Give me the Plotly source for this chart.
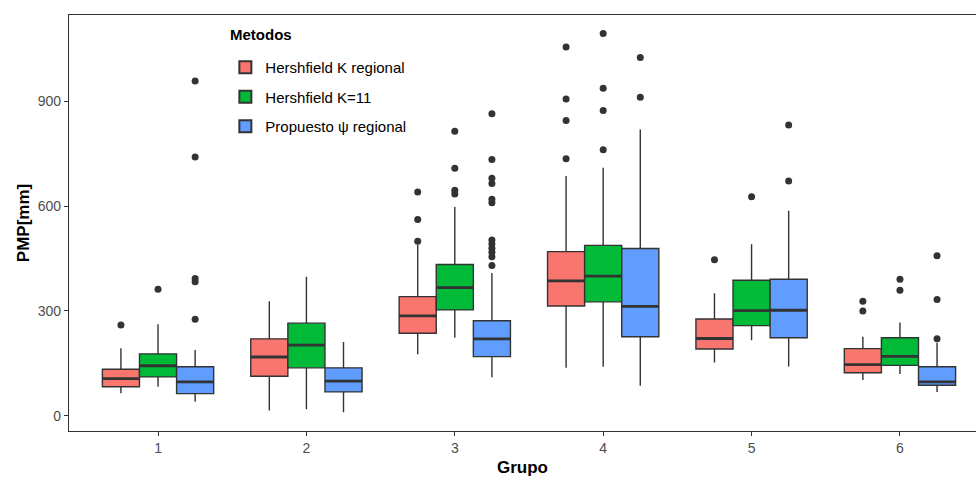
import plotly.graph_objects as go

grupos = [1, 2, 3, 4, 5, 6]
metodos = ["Hershfield K regional", "Hershfield K=11", "Propuesto \u03c8 regional"]
colores = ["#F8766D", "#00BA38", "#619CFF"]

# Box statistics per method, per group (1..6)
q1 = {
    0: [83, 113, 236, 314, 191, 123],
    1: [111, 137, 303, 326, 258, 144],
    2: [63, 68, 169, 226, 223, 87],
}
med = {
    0: [106, 168, 286, 386, 221, 146],
    1: [143, 202, 367, 400, 301, 170],
    2: [97, 99, 220, 313, 302, 97],
}
q3 = {
    0: [133, 220, 341, 470, 277, 192],
    1: [177, 265, 433, 488, 388, 223],
    2: [140, 137, 272, 479, 391, 140],
}
lo = {
    0: [64, 15, 176, 137, 152, 102],
    1: [83, 18, 223, 140, 216, 119],
    2: [40, 10, 110, 86, 141, 68],
}
hi = {
    0: [193, 328, 490, 687, 351, 226],
    1: [262, 398, 598, 710, 491, 267],
    2: [188, 211, 409, 820, 587, 209],
}
outliers = {
    0: [[260], [], [500, 562, 641], [736, 846, 907, 1056], [447], [300, 328]],
    1: [[362], [], [635, 646, 709, 815], [762, 874, 938, 1095], [627], [359, 391]],
    2: [[276, 384, 393, 741, 959], [],
        [430, 455, 468, 480, 492, 503, 610, 620, 665, 680, 734, 865],
        [912, 1026], [672, 833], [220, 333, 458]],
}
legend_title = "Metodos"

dodge = 0.25
fig = go.Figure()
for m in range(3):
    xs = [g + (m - 1) * dodge for g in grupos]
    fig.add_trace(go.Box(
        x=xs, q1=q1[m], median=med[m], q3=q3[m],
        lowerfence=lo[m], upperfence=hi[m],
        width=dodge, name=metodos[m], fillcolor=colores[m],
        legendgroup=metodos[m],
        line=dict(color="#333333", width=1.4), boxpoints=False,
        whiskerwidth=0, hoverinfo="skip",
    ))
    # thicker medians
    mx, my = [], []
    for x, v in zip(xs, med[m]):
        mx += [x - dodge / 2, x + dodge / 2, None]
        my += [v, v, None]
    fig.add_trace(go.Scatter(x=mx, y=my, mode="lines",
                             line=dict(color="#333333", width=2.8),
                             legendgroup=metodos[m],
                             showlegend=False, hoverinfo="skip"))
    ox, oy = [], []
    for x, vals in zip(xs, outliers[m]):
        ox += [x] * len(vals)
        oy += vals
    fig.add_trace(go.Scatter(x=ox, y=oy, mode="markers",
                             marker=dict(color="#333333", size=7),
                             legendgroup=metodos[m],
                             showlegend=False, hoverinfo="skip"))

fig.add_annotation(
    text="<b>" + legend_title + "</b>", xref="paper", yref="paper",
    x=0.1753, y=0.952, xanchor="left", yanchor="middle", showarrow=False,
    font=dict(size=15, color="black"),
)

fig.update_layout(
    width=976, height=477,
    margin=dict(l=69, r=0, t=15, b=46),
    plot_bgcolor="white", paper_bgcolor="white",
    font=dict(family="Liberation Sans, Arial, sans-serif", color="#4D4D4D", size=14),
    showlegend=True,
    legend=dict(
        x=0.1724, y=0.9136, xanchor="left", yanchor="top",
        font=dict(size=15, color="black"), bgcolor="rgba(0,0,0,0)",
        traceorder="grouped", tracegroupgap=7, itemsizing="constant",
    ),
    xaxis=dict(
        range=[0.4, 6.5125], tickmode="array", tickvals=grupos,
        ticktext=[str(g) for g in grupos],
        showline=True, linecolor="#333333", linewidth=1.2, mirror=True,
        ticks="outside", ticklen=4, tickcolor="#333333", showgrid=False,
        zeroline=False,
        title=dict(text="<b>Grupo</b>", font=dict(size=17, color="black"), standoff=6),
    ),
    yaxis=dict(
        range=[-44, 1148], tickvals=[0, 300, 600, 900],
        showline=True, linecolor="#333333", linewidth=1.2, mirror=False,
        ticks="outside", ticklen=4, tickcolor="#333333", showgrid=False,
        zeroline=False,
        title=dict(text="<b>PMP[mm]</b>", font=dict(size=17, color="black"), standoff=3),
    ),
)

fig.write_html("out.html", config={"displayModeBar": False},
               post_script="document.body.style.margin='0';")
